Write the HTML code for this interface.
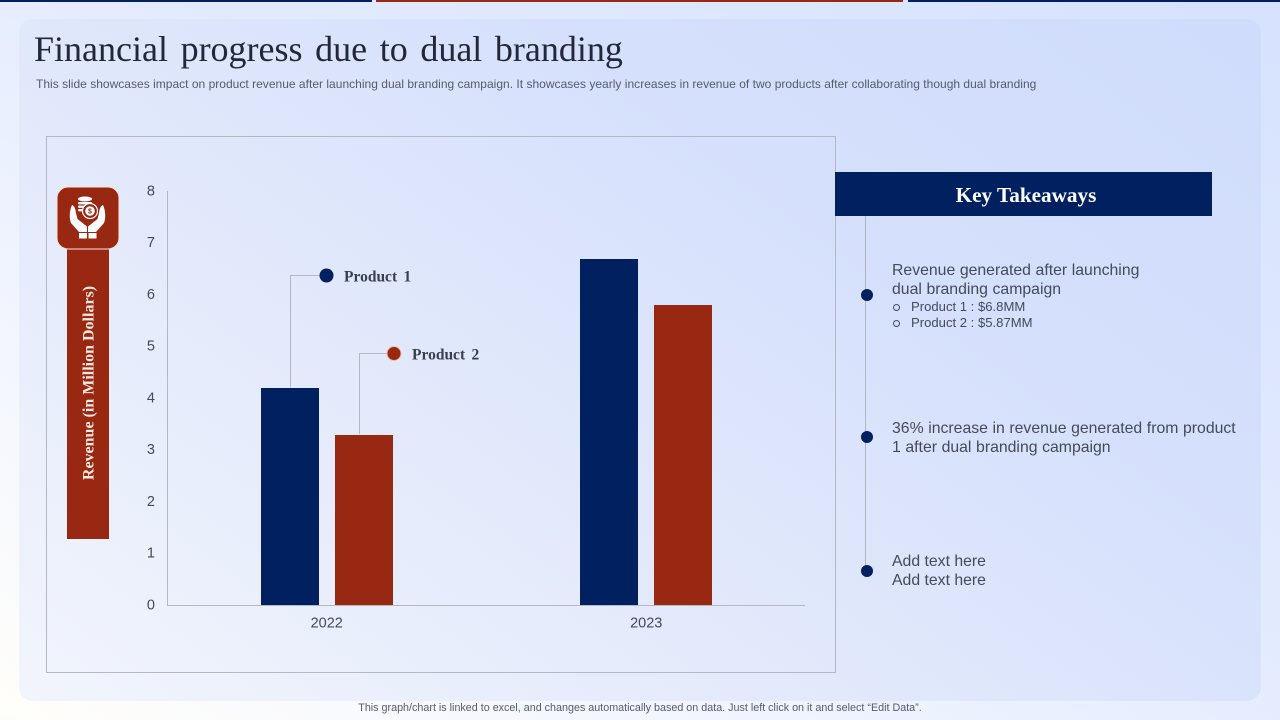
<!DOCTYPE html>
<html lang="en">
<head>
<meta charset="utf-8">
<title>Financial progress due to dual branding</title>
<style>
html,body{margin:0;padding:0;}
body{width:1280px;height:720px;overflow:hidden;position:relative;font-family:"Liberation Sans",sans-serif;
background:linear-gradient(210deg,#d6e2fe 0%,#e3ebfe 45%,#f6f8fe 80%,#fffefa 100%);}
.abs{position:absolute;}
.t{position:absolute;white-space:pre;}
#panel{left:19px;top:19px;width:1242px;height:682px;border-radius:14px;
background:linear-gradient(216deg,#cfdcfb 0%,#d5e0fc 32%,#e2e9fb 62%,#f2f5fd 100%);}
#title{left:34px;top:27px;font:36px/44px "Liberation Serif",serif;color:#22283a;word-spacing:3.6px;}
#sub{left:36px;top:77px;font:12px/14px "Liberation Sans",sans-serif;color:#555b6b;letter-spacing:.017px;}
#chart{left:0;top:0;}
.kt{position:absolute;left:892px;font-size:15.8px;line-height:19px;color:#454a5a;white-space:pre;}
.kts{position:absolute;left:911px;font-size:13.1px;line-height:16px;color:#454a5a;white-space:pre;}
.bul{position:absolute;left:893px;width:5px;height:5px;border:1px solid #454a5a;border-radius:50%;}
.dot{position:absolute;left:861px;width:12px;height:12px;border-radius:50%;background:#002060;}
</style>
</head>
<body>
<div class="abs" style="left:0;top:0;width:372px;height:2px;background:#002060"></div>
<div class="abs" style="left:376px;top:0;width:527px;height:2px;background:#982812"></div>
<div class="abs" style="left:908px;top:0;width:372px;height:2px;background:#002060"></div>
<div id="panel" class="abs"></div>
<div id="title" class="t">Financial progress due to dual branding</div>
<div id="sub" class="t">This slide showcases impact on product revenue after launching dual branding campaign. It showcases yearly increases in revenue of two products after collaborating though dual branding</div>

<div class="abs" style="left:46px;top:136px;width:788px;height:535px;border:1px solid #b4b8c2"></div>

<svg id="chart" class="abs" width="1280" height="720">
  <g id="axes"></g>
  <g id="bars"></g>
  <g id="callouts"></g>
</svg>

<div class="abs" style="left:67px;top:248px;width:42px;height:291px;background:#982812"></div>
<svg class="abs" style="left:67px;top:248px" width="42" height="291">
  <text transform="translate(26.5,135) rotate(-90)" text-anchor="middle" font-family="Liberation Serif" font-weight="bold" font-size="16" fill="#fbe9e2">Revenue (in Million Dollars)</text>
</svg>
<svg class="abs" style="left:56px;top:186px" width="64" height="64" viewBox="0 0 64 64">
  <rect x="1" y="1" width="62" height="62" rx="11" fill="#982812" stroke="#fde3da" stroke-width="1"/>
  <g fill="#fff">
    <ellipse cx="29" cy="13" rx="7" ry="2.5"/>
    <rect x="22" y="16" width="14" height="2.4" rx="1.2"/>
    <rect x="22" y="19.5" width="11" height="2.4" rx="1.2"/>
    <rect x="22" y="23" width="7" height="2.4" rx="1.2"/>
    <circle cx="34" cy="25" r="7.5" fill="#982812" stroke="#fff" stroke-width="1.2"/>
    <circle cx="34" cy="25" r="4.8"/>
    <path d="M16 19c2.5 1 3.5 4 4 8l1.500 6 9.500 7.500V46h-8l-8-9c-2-5-1.500-13 1-18z"/>
    <path d="M47 19c-2.500 1-3.500 4-4 8l-1.500 6-9.500 7.500V46h8l8-9c2-5 1.500-13-1-18z"/>
    <rect x="23" y="47" width="8" height="5.500"/>
    <rect x="32.500" y="47" width="8" height="5.500"/>
  </g>
  <text x="34" y="27.500" text-anchor="middle" font-size="7" font-family="Liberation Sans" font-weight="bold" fill="#982812">$</text>
</svg>

<div class="abs" style="left:835px;top:172px;width:377px;height:44px;background:#002060"></div>
<div class="t" style="left:835px;top:172px;width:382px;height:44px;text-align:center;font:bold 21.200px/46px 'Liberation Serif',serif;color:#fff">Key Takeaways</div>
<div class="abs" style="left:865px;top:216px;width:1px;height:355px;background:#b0b5c0"></div>
<div class="dot" style="top:289px"></div>
<div class="dot" style="top:431px"></div>
<div class="dot" style="top:565px"></div>
<div class="kt" style="top:261px;word-spacing:.2px">Revenue generated after launching
dual branding campaign</div>
<div class="bul" style="top:304px"></div>
<div class="kts" style="top:299px">Product 1 : $6.8MM</div>
<div class="bul" style="top:320px"></div>
<div class="kts" style="top:315px">Product 2 : $5.87MM</div>
<div class="kt" style="top:419px;word-spacing:.2px">36% increase in revenue generated from product
1 after dual branding campaign</div>
<div class="kt" style="top:552px">Add text here
Add text here</div>

<div class="t" style="left:0;top:702px;width:1280px;text-align:center;font-size:10.750px;line-height:13px;color:#555b6b">This graph/chart is linked to excel, and changes automatically based on data. Just left click on it and select “Edit Data”.</div>

<script>
var categories = ['2022', '2023'];
var product1Values = [4.2, 6.7];
var product2Values = [3.3, 5.8];
var yTickLabels = [0, 1, 2, 3, 4, 5, 6, 7, 8];
var seriesNames = ['Product 1', 'Product 2'];

var NS = 'http://www.w3.org/2000/svg';
var plotLeft = 167, plotRight = 806, plotBottom = 605, plotTop = 191, yMax = 8;
var barW = 58, barGap = 16;
var colors = ['#002060', '#982812'];

function yScale(v) { return plotBottom - (v / yMax) * (plotBottom - plotTop); }
function xCenter(i) { return plotLeft + (i + 0.5) * (plotRight - plotLeft) / categories.length; }
function xBar(i, s) { return s === 0 ? xCenter(i) - barGap / 2 - barW : xCenter(i) + barGap / 2; }
function make(tag, attrs, parent) {
  var el = document.createElementNS(NS, tag);
  for (var k in attrs) el.setAttribute(k, attrs[k]);
  parent.appendChild(el);
  return el;
}

var axes = document.getElementById('axes');
var bars = document.getElementById('bars');
var callouts = document.getElementById('callouts');

var yLine = make('line', {x1: plotLeft + 0.5, x2: plotLeft + 0.5, y1: plotTop, y2: plotBottom, stroke: '#b4b8c2'}, axes);


var xLine = make('line', {x1: plotLeft, x2: 805, y1: plotBottom + 0.5, y2: plotBottom + 0.5, stroke: '#b4b8c2'}, axes);



yTickLabels.forEach(function (v) {
  var t = make('text', {x: 155, y: yScale(v) + 4.3, 'text-anchor': 'end', 'font-family': 'Liberation Sans', 'font-size': 14.5, fill: '#454a5a'}, axes);
  t.textContent = v;
  
  
});

categories.forEach(function (c, i) {
  var t = make('text', {x: xCenter(i), y: 627.5, 'text-anchor': 'middle', 'font-family': 'Liberation Sans', 'font-size': 14.5, fill: '#454a5a'}, axes);
  t.textContent = c;
  
  
  [product1Values, product2Values].forEach(function (vals, s) {
    var top = Math.round(yScale(vals[i]) + 0.5);
    var r = make('rect', {x: Math.round(xBar(i, s)), y: top, width: barW, height: plotBottom - top, fill: colors[s]}, bars);
    
    
  });
});

[product1Values, product2Values].forEach(function (vals, s) {
  var lx = Math.round(xBar(0, s) + barW / 2) + (s === 0 ? 0.5 : -4.5);
  var ly = s === 0 ? 275.5 : 353.5;
  var mx = s === 0 ? 326.5 : 394;
  var p = make('path', {d: 'M' + lx + ' ' + yScale(vals[0]) + 'V' + ly + 'H' + mx, fill: 'none', stroke: '#b4b8c2'}, callouts);
  
  
  var c = make('circle', {cx: mx, cy: ly, r: 7, fill: colors[s]}, callouts);
  if (s === 1) c.setAttribute('stroke', '#f0b9a6');
  
  
  var t = make('text', {x: mx + (s === 0 ? 17.5 : 18), y: ly + 6, 'font-family': 'Liberation Serif', 'font-weight': 'bold', 'font-size': 15.5, 'word-spacing': 2.5, fill: '#3a3f4e'}, callouts);
  t.textContent = seriesNames[s];
  
  
});
</script>
</body>
</html>
